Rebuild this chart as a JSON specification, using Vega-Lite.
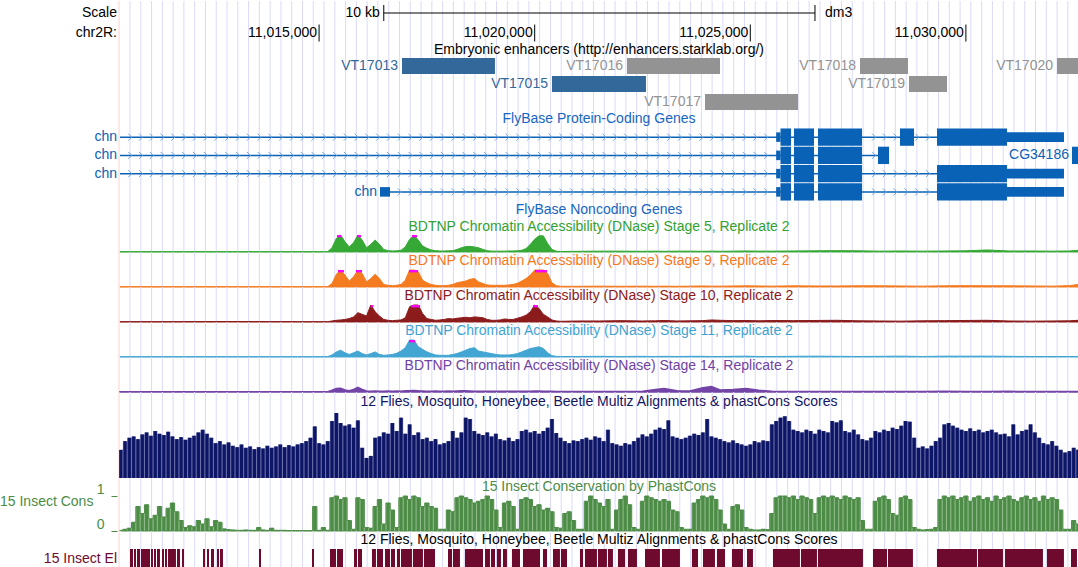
{
"$schema":"https://vega.github.io/schema/vega-lite/v6.json",
"padding":0,"spacing":0,"bounds":"flush","background":"white",
"config":{"view":{"stroke":null},"text":{"font":"Liberation Sans","fontSize":14},"axis":{"labelFont":"Liberation Sans"}},
"datasets":{
"one":[{"a":1}],
"edge":[{"p":11010360}],
"sbar":[{"p":11016500},{"p":11026500}],
"coords":[{"p":11015000,"label":"11,015,000"},{"p":11020000,"label":"11,020,000"},{"p":11025000,"label":"11,025,000"},{"p":11030000,"label":"11,030,000"}],
"guides":[{"p":11010615},{"p":11010865},{"p":11011115},{"p":11011365},{"p":11011615},{"p":11011865},{"p":11012115},{"p":11012365},{"p":11012615},{"p":11012865},{"p":11013115},{"p":11013365},{"p":11013615},{"p":11013865},{"p":11014115},{"p":11014365},{"p":11014615},{"p":11014865},{"p":11015115},{"p":11015365},{"p":11015615},{"p":11015865},{"p":11016115},{"p":11016365},{"p":11016615},{"p":11016865},{"p":11017115},{"p":11017365},{"p":11017615},{"p":11017865},{"p":11018115},{"p":11018365},{"p":11018615},{"p":11018865},{"p":11019115},{"p":11019365},{"p":11019615},{"p":11019865},{"p":11020115},{"p":11020365},{"p":11020615},{"p":11020865},{"p":11021115},{"p":11021365},{"p":11021615},{"p":11021865},{"p":11022115},{"p":11022365},{"p":11022615},{"p":11022865},{"p":11023115},{"p":11023365},{"p":11023615},{"p":11023865},{"p":11024115},{"p":11024365},{"p":11024615},{"p":11024865},{"p":11025115},{"p":11025365},{"p":11025615},{"p":11025865},{"p":11026115},{"p":11026365},{"p":11026615},{"p":11026865},{"p":11027115},{"p":11027365},{"p":11027615},{"p":11027865},{"p":11028115},{"p":11028365},{"p":11028615},{"p":11028865},{"p":11029115},{"p":11029365},{"p":11029615},{"p":11029865},{"p":11030115},{"p":11030365},{"p":11030615},{"p":11030865},{"p":11031115},{"p":11031365},{"p":11031615},{"p":11031865},{"p":11032115},{"p":11032365}],
"enh":[{"lane":1,"s":11016923,"e":11019079,"name":"VT17013","kind":"strong"},{"lane":1,"s":11022141,"e":11024298,"name":"VT17016","kind":"weak"},{"lane":1,"s":11027544,"e":11028657,"name":"VT17018","kind":"weak"},{"lane":1,"s":11032113,"e":11032600,"name":"VT17020","kind":"weak"},{"lane":2,"s":11020401,"e":11022581,"name":"VT17015","kind":"strong"},{"lane":2,"s":11028681,"e":11029562,"name":"VT17019","kind":"weak"},{"lane":3,"s":11023950,"e":11026106,"name":"VT17017","kind":"weak"}],
"introns":[{"lane":1,"s":11010383,"e":11032275},{"lane":2,"s":11010383,"e":11028217},{"lane":3,"s":11010383,"e":11032275},{"lane":4,"s":11016644,"e":11032275}],
"exons":[{"lane":1,"s":11025700,"e":11025944},{"lane":1,"s":11026014,"e":11026477},{"lane":1,"s":11026570,"e":11027591},{"lane":1,"s":11028472,"e":11028797},{"lane":1,"s":11029330,"e":11030953},
{"lane":2,"s":11025700,"e":11025944},{"lane":2,"s":11026014,"e":11026477},{"lane":2,"s":11026570,"e":11027591},{"lane":2,"s":11027962,"e":11028217},{"lane":2,"s":11032460,"e":11032600},
{"lane":3,"s":11025700,"e":11025944},{"lane":3,"s":11026014,"e":11026477},{"lane":3,"s":11026570,"e":11027591},{"lane":3,"s":11029330,"e":11030953},
{"lane":4,"s":11025700,"e":11025944},{"lane":4,"s":11026014,"e":11026477},{"lane":4,"s":11026570,"e":11027591},{"lane":4,"s":11029330,"e":11030953}],
"utrs":[{"lane":1,"s":11025600,"e":11025700},{"lane":1,"s":11030953,"e":11032275},{"lane":2,"s":11025600,"e":11025700},{"lane":3,"s":11025600,"e":11025700},{"lane":3,"s":11030953,"e":11032275},{"lane":4,"s":11016413,"e":11016644},{"lane":4,"s":11025600,"e":11025700},{"lane":4,"s":11030953,"e":11032275}],
"glab":[{"lane":1,"p":11010383,"label":"chn"},{"lane":2,"p":11010383,"label":"chn"},{"lane":3,"p":11010383,"label":"chn"},{"lane":4,"p":11016413,"label":"chn"},{"lane":2,"p":11032460,"label":"CG34186"}],
"sig":[
{"p":11010383,"s5":0.02,"s9":0.02,"s10":0.02,"s11":0.02,"s14":0.02},
{"p":11011500,"s5":0.02,"s9":0.02,"s10":0.02,"s11":0.02,"s14":0.02},
{"p":11013000,"s5":0.02,"s9":0.02,"s10":0.03,"s11":0.02,"s14":0.02},
{"p":11014500,"s5":0.02,"s9":0.02,"s10":0.02,"s11":0.02,"s14":0.02},
{"p":11015200,"s5":0.02,"s9":0.02,"s10":0.02,"s11":0.02,"s14":0.02},
{"p":11015300,"s5":0.25,"s9":0.2,"s10":0.06,"s11":0.12,"s14":0.1},
{"p":11015400,"s5":0.8,"s9":0.75,"s10":0.1,"s11":0.3,"s14":0.2},
{"p":11015500,"s5":1.2,"s9":1.2,"s10":0.12,"s11":0.4,"s14":0.22},
{"p":11015600,"s5":0.6,"s9":0.7,"s10":0.15,"s11":0.25,"s14":0.12},
{"p":11015700,"s5":0.3,"s9":0.35,"s10":0.2,"s11":0.15,"s14":0.08},
{"p":11015800,"s5":0.55,"s9":0.6,"s10":0.3,"s11":0.25,"s14":0.15},
{"p":11015900,"s5":1.2,"s9":1.2,"s10":0.55,"s11":0.35,"s14":0.27},
{"p":11016000,"s5":0.7,"s9":0.8,"s10":0.45,"s11":0.2,"s14":0.15},
{"p":11016100,"s5":0.25,"s9":0.3,"s10":0.35,"s11":0.12,"s14":0.06},
{"p":11016200,"s5":0.45,"s9":0.5,"s10":1.1,"s11":0.2,"s14":0.05},
{"p":11016300,"s5":0.7,"s9":0.75,"s10":0.6,"s11":0.3,"s14":0.06},
{"p":11016400,"s5":0.45,"s9":0.5,"s10":0.35,"s11":0.15,"s14":0.05},
{"p":11016500,"s5":0.15,"s9":0.15,"s10":0.15,"s11":0.1,"s14":0.05},
{"p":11016600,"s5":0.08,"s9":0.1,"s10":0.1,"s11":0.12,"s14":0.06},
{"p":11016700,"s5":0.06,"s9":0.08,"s10":0.08,"s11":0.15,"s14":0.05},
{"p":11016800,"s5":0.07,"s9":0.1,"s10":0.1,"s11":0.22,"s14":0.06},
{"p":11016900,"s5":0.1,"s9":0.15,"s10":0.12,"s11":0.35,"s14":0.05},
{"p":11017000,"s5":0.3,"s9":0.4,"s10":0.25,"s11":0.55,"s14":0.07},
{"p":11017100,"s5":0.75,"s9":1.1,"s10":0.9,"s11":1.0,"s14":0.08},
{"p":11017200,"s5":1.2,"s9":1.2,"s10":1.2,"s11":1.2,"s14":0.09},
{"p":11017300,"s5":0.7,"s9":0.9,"s10":1.1,"s11":0.6,"s14":0.07},
{"p":11017400,"s5":0.35,"s9":0.4,"s10":0.5,"s11":0.45,"s14":0.06},
{"p":11017500,"s5":0.22,"s9":0.25,"s10":0.2,"s11":0.3,"s14":0.05},
{"p":11017600,"s5":0.12,"s9":0.15,"s10":0.15,"s11":0.2,"s14":0.05},
{"p":11017700,"s5":0.08,"s9":0.1,"s10":0.1,"s11":0.12,"s14":0.06},
{"p":11017800,"s5":0.06,"s9":0.08,"s10":0.12,"s11":0.1,"s14":0.05},
{"p":11017900,"s5":0.06,"s9":0.08,"s10":0.15,"s11":0.1,"s14":0.05},
{"p":11018000,"s5":0.07,"s9":0.1,"s10":0.2,"s11":0.1,"s14":0.06},
{"p":11018100,"s5":0.08,"s9":0.15,"s10":0.18,"s11":0.15,"s14":0.05},
{"p":11018200,"s5":0.15,"s9":0.25,"s10":0.22,"s11":0.2,"s14":0.06},
{"p":11018300,"s5":0.25,"s9":0.3,"s10":0.25,"s11":0.3,"s14":0.07},
{"p":11018400,"s5":0.32,"s9":0.35,"s10":0.28,"s11":0.4,"s14":0.07},
{"p":11018500,"s5":0.33,"s9":0.45,"s10":0.25,"s11":0.5,"s14":0.06},
{"p":11018600,"s5":0.3,"s9":0.5,"s10":0.3,"s11":0.55,"s14":0.05},
{"p":11018700,"s5":0.25,"s9":0.3,"s10":0.28,"s11":0.35,"s14":0.05},
{"p":11018800,"s5":0.15,"s9":0.2,"s10":0.25,"s11":0.3,"s14":0.05},
{"p":11018900,"s5":0.08,"s9":0.12,"s10":0.15,"s11":0.25,"s14":0.04},
{"p":11019000,"s5":0.05,"s9":0.1,"s10":0.1,"s11":0.2,"s14":0.04},
{"p":11019100,"s5":0.05,"s9":0.1,"s10":0.1,"s11":0.15,"s14":0.04},
{"p":11019200,"s5":0.05,"s9":0.1,"s10":0.12,"s11":0.12,"s14":0.05},
{"p":11019300,"s5":0.05,"s9":0.1,"s10":0.18,"s11":0.12,"s14":0.05},
{"p":11019400,"s5":0.06,"s9":0.12,"s10":0.15,"s11":0.12,"s14":0.04},
{"p":11019500,"s5":0.06,"s9":0.15,"s10":0.15,"s11":0.15,"s14":0.04},
{"p":11019600,"s5":0.07,"s9":0.22,"s10":0.22,"s11":0.2,"s14":0.05},
{"p":11019700,"s5":0.1,"s9":0.35,"s10":0.3,"s11":0.3,"s14":0.05},
{"p":11019800,"s5":0.2,"s9":0.5,"s10":0.4,"s11":0.4,"s14":0.05},
{"p":11019900,"s5":0.45,"s9":0.7,"s10":0.6,"s11":0.5,"s14":0.05},
{"p":11020000,"s5":0.75,"s9":1.0,"s10":1.1,"s11":0.55,"s14":0.06},
{"p":11020100,"s5":0.95,"s9":1.2,"s10":0.8,"s11":0.6,"s14":0.06},
{"p":11020200,"s5":0.95,"s9":1.2,"s10":0.45,"s11":0.5,"s14":0.05},
{"p":11020300,"s5":0.5,"s9":0.8,"s10":0.3,"s11":0.25,"s14":0.04},
{"p":11020400,"s5":0.15,"s9":0.25,"s10":0.12,"s11":0.08,"s14":0.04},
{"p":11020500,"s5":0.05,"s9":0.08,"s10":0.06,"s11":0.04,"s14":0.03},
{"p":11020600,"s5":0.03,"s9":0.04,"s10":0.04,"s11":0.03,"s14":0.03},
{"p":11021000,"s5":0.04,"s9":0.04,"s10":0.06,"s11":0.03,"s14":0.03},
{"p":11021500,"s5":0.05,"s9":0.05,"s10":0.06,"s11":0.04,"s14":0.03},
{"p":11022000,"s5":0.05,"s9":0.04,"s10":0.08,"s11":0.03,"s14":0.03},
{"p":11022500,"s5":0.04,"s9":0.05,"s10":0.06,"s11":0.04,"s14":0.05},
{"p":11022800,"s5":0.05,"s9":0.04,"s10":0.07,"s11":0.03,"s14":0.15},
{"p":11023000,"s5":0.04,"s9":0.05,"s10":0.09,"s11":0.04,"s14":0.2},
{"p":11023300,"s5":0.05,"s9":0.04,"s10":0.06,"s11":0.03,"s14":0.08},
{"p":11023600,"s5":0.05,"s9":0.05,"s10":0.07,"s11":0.04,"s14":0.06},
{"p":11023900,"s5":0.04,"s9":0.06,"s10":0.08,"s11":0.04,"s14":0.25},
{"p":11024100,"s5":0.05,"s9":0.05,"s10":0.12,"s11":0.03,"s14":0.32},
{"p":11024300,"s5":0.04,"s9":0.05,"s10":0.1,"s11":0.03,"s14":0.12},
{"p":11024600,"s5":0.05,"s9":0.06,"s10":0.08,"s11":0.04,"s14":0.15},
{"p":11024900,"s5":0.06,"s9":0.07,"s10":0.09,"s11":0.05,"s14":0.2},
{"p":11025200,"s5":0.05,"s9":0.06,"s10":0.07,"s11":0.03,"s14":0.1},
{"p":11025500,"s5":0.05,"s9":0.05,"s10":0.09,"s11":0.03,"s14":0.04},
{"p":11026000,"s5":0.06,"s9":0.07,"s10":0.08,"s11":0.04,"s14":0.03},
{"p":11026500,"s5":0.07,"s9":0.06,"s10":0.09,"s11":0.05,"s14":0.03},
{"p":11027000,"s5":0.08,"s9":0.06,"s10":0.1,"s11":0.04,"s14":0.03},
{"p":11027500,"s5":0.07,"s9":0.07,"s10":0.07,"s11":0.03,"s14":0.03},
{"p":11028000,"s5":0.05,"s9":0.07,"s10":0.06,"s11":0.04,"s14":0.03},
{"p":11028500,"s5":0.06,"s9":0.06,"s10":0.05,"s11":0.05,"s14":0.03},
{"p":11029000,"s5":0.05,"s9":0.05,"s10":0.07,"s11":0.03,"s14":0.03},
{"p":11029500,"s5":0.06,"s9":0.07,"s10":0.08,"s11":0.05,"s14":0.04},
{"p":11030000,"s5":0.07,"s9":0.08,"s10":0.09,"s11":0.05,"s14":0.03},
{"p":11030500,"s5":0.12,"s9":0.07,"s10":0.1,"s11":0.05,"s14":0.03},
{"p":11031000,"s5":0.06,"s9":0.07,"s10":0.06,"s11":0.04,"s14":0.04},
{"p":11031500,"s5":0.06,"s9":0.06,"s10":0.05,"s11":0.03,"s14":0.03},
{"p":11032000,"s5":0.05,"s9":0.05,"s10":0.06,"s11":0.03,"s14":0.03},
{"p":11032400,"s5":0.06,"s9":0.08,"s10":0.07,"s11":0.03,"s14":0.03},
{"p":11032600,"s5":0.1,"s9":0.15,"s10":0.1,"s11":0.03,"s14":0.03}],
"caps":[{"t":"s5","s":11015415,"e":11015508},{"t":"s5","s":11015879,"e":11015972},{"t":"s5","s":11017154,"e":11017270},
{"t":"s9","s":11015438,"e":11015577},{"t":"s9","s":11015856,"e":11015995},{"t":"s9","s":11017085,"e":11017293},{"t":"s9","s":11020007,"e":11020285},
{"t":"s10","s":11016200,"e":11016260},{"t":"s10","s":11017131,"e":11017340},{"t":"s10","s":11019960,"e":11020076},
{"t":"s11","s":11017085,"e":11017224}],
"mc":[
{"p":11010400,"m":0.42,"c":0.02},{"p":11010500,"m":0.55,"c":0.05},{"p":11010600,"m":0.6,"c":0.08},{"p":11010700,"m":0.62,"c":0.25},{"p":11010800,"m":0.58,"c":0.7},{"p":11010900,"m":0.65,"c":0.5},{"p":11011000,"m":0.68,"c":0.75},{"p":11011100,"m":0.63,"c":0.35},{"p":11011200,"m":0.7,"c":0.45},{"p":11011300,"m":0.66,"c":0.7},
{"p":11011400,"m":0.64,"c":0.4},{"p":11011500,"m":0.69,"c":0.65},{"p":11011600,"m":0.62,"c":0.8},{"p":11011700,"m":0.58,"c":0.55},{"p":11011800,"m":0.61,"c":0.3},{"p":11011900,"m":0.57,"c":0.1},{"p":11012000,"m":0.6,"c":0.15},{"p":11012100,"m":0.63,"c":0.12},{"p":11012200,"m":0.68,"c":0.3},{"p":11012300,"m":0.72,"c":0.2},
{"p":11012400,"m":0.66,"c":0.35},{"p":11012500,"m":0.6,"c":0.12},{"p":11012600,"m":0.52,"c":0.3},{"p":11012700,"m":0.55,"c":0.25},{"p":11012800,"m":0.5,"c":0.06},{"p":11012900,"m":0.53,"c":0.04},{"p":11013000,"m":0.48,"c":0.03},{"p":11013100,"m":0.46,"c":0.02},{"p":11013200,"m":0.5,"c":0.02},{"p":11013300,"m":0.45,"c":0.03},
{"p":11013400,"m":0.47,"c":0.02},{"p":11013500,"m":0.43,"c":0.02},{"p":11013600,"m":0.46,"c":0.1},{"p":11013700,"m":0.44,"c":0.03},{"p":11013800,"m":0.48,"c":0.02},{"p":11013900,"m":0.45,"c":0.08},{"p":11014000,"m":0.47,"c":0.02},{"p":11014100,"m":0.5,"c":0.02},{"p":11014200,"m":0.46,"c":0.02},{"p":11014300,"m":0.49,"c":0.01},
{"p":11014400,"m":0.47,"c":0.01},{"p":11014500,"m":0.5,"c":0.01},{"p":11014600,"m":0.52,"c":0.01},{"p":11014700,"m":0.55,"c":0.01},{"p":11014800,"m":0.6,"c":0.01},{"p":11014900,"m":0.77,"c":0.7},{"p":11015000,"m":0.52,"c":0.02},{"p":11015100,"m":0.5,"c":0.1},{"p":11015200,"m":0.55,"c":0.02},{"p":11015300,"m":0.85,"c":0.95},
{"p":11015400,"m":0.97,"c":1},{"p":11015500,"m":0.82,"c":0.9},{"p":11015600,"m":0.78,"c":0.95},{"p":11015700,"m":0.8,"c":0.3},{"p":11015800,"m":0.75,"c":0.05},{"p":11015900,"m":0.86,"c":0.95},{"p":11016000,"m":0.45,"c":0.9},{"p":11016100,"m":0.3,"c":0.1},{"p":11016200,"m":0.33,"c":0.08},{"p":11016300,"m":0.6,"c":0.7},
{"p":11016400,"m":0.62,"c":0.9},{"p":11016500,"m":0.68,"c":0.2},{"p":11016600,"m":0.66,"c":0.8},{"p":11016700,"m":0.82,"c":0.6},{"p":11016800,"m":0.7,"c":0.1},{"p":11016900,"m":0.9,"c":0.95},{"p":11017000,"m":0.66,"c":1},{"p":11017100,"m":0.8,"c":0.9},{"p":11017200,"m":0.64,"c":1},{"p":11017300,"m":0.68,"c":0.95},
{"p":11017400,"m":0.58,"c":0.7},{"p":11017500,"m":0.6,"c":0.8},{"p":11017600,"m":0.55,"c":0.7},{"p":11017700,"m":0.58,"c":0.65},{"p":11017800,"m":0.5,"c":0.05},{"p":11017900,"m":0.52,"c":0.05},{"p":11018000,"m":0.55,"c":0.6},{"p":11018100,"m":0.7,"c":0.55},{"p":11018200,"m":0.6,"c":0.95},{"p":11018300,"m":0.68,"c":1},
{"p":11018400,"m":0.9,"c":0.95},{"p":11018500,"m":0.88,"c":0.9},{"p":11018600,"m":0.7,"c":0.8},{"p":11018700,"m":0.66,"c":0.85},{"p":11018800,"m":0.64,"c":0.9},{"p":11018900,"m":0.68,"c":1},{"p":11019000,"m":0.62,"c":0.9},{"p":11019100,"m":0.66,"c":0.6},{"p":11019200,"m":0.58,"c":0.1},{"p":11019300,"m":0.56,"c":0.8},
{"p":11019400,"m":0.6,"c":0.85},{"p":11019500,"m":0.55,"c":0.7},{"p":11019600,"m":0.58,"c":0.05},{"p":11019700,"m":0.7,"c":0.9},{"p":11019800,"m":0.72,"c":0.95},{"p":11019900,"m":0.68,"c":0.9},{"p":11020000,"m":0.7,"c":0.7},{"p":11020100,"m":0.66,"c":0.75},{"p":11020200,"m":0.7,"c":0.6},{"p":11020300,"m":0.75,"c":0.65},
{"p":11020400,"m":0.88,"c":0.55},{"p":11020500,"m":0.67,"c":0.1},{"p":11020600,"m":0.6,"c":0.08},{"p":11020700,"m":0.55,"c":0.5},{"p":11020800,"m":0.52,"c":0.55},{"p":11020900,"m":0.56,"c":0.3},{"p":11021000,"m":0.55,"c":0.05},{"p":11021100,"m":0.58,"c":0.05},{"p":11021200,"m":0.6,"c":0.85},{"p":11021300,"m":0.57,"c":1},
{"p":11021400,"m":0.62,"c":0.9},{"p":11021500,"m":0.6,"c":0.8},{"p":11021600,"m":0.55,"c":0.7},{"p":11021700,"m":0.72,"c":0.9},{"p":11021800,"m":0.52,"c":0.05},{"p":11021900,"m":0.5,"c":0.6},{"p":11022000,"m":0.48,"c":0.9},{"p":11022100,"m":0.52,"c":1},{"p":11022200,"m":0.5,"c":0.75},{"p":11022300,"m":0.55,"c":0.1},
{"p":11022400,"m":0.6,"c":0.05},{"p":11022500,"m":0.65,"c":0.85},{"p":11022600,"m":0.62,"c":1},{"p":11022700,"m":0.66,"c":0.95},{"p":11022800,"m":0.72,"c":0.9},{"p":11022900,"m":0.75,"c":0.85},{"p":11023000,"m":0.73,"c":0.9},{"p":11023100,"m":0.86,"c":0.85},{"p":11023200,"m":0.62,"c":0.6},{"p":11023300,"m":0.6,"c":0.55},
{"p":11023400,"m":0.58,"c":0.1},{"p":11023500,"m":0.6,"c":0.05},{"p":11023600,"m":0.63,"c":0.05},{"p":11023700,"m":0.66,"c":0.8},{"p":11023800,"m":0.64,"c":0.9},{"p":11023900,"m":0.68,"c":1},{"p":11024000,"m":0.88,"c":0.95},{"p":11024100,"m":0.62,"c":1},{"p":11024200,"m":0.6,"c":0.9},{"p":11024300,"m":0.58,"c":0.6},
{"p":11024400,"m":0.55,"c":0.2},{"p":11024500,"m":0.53,"c":0.05},{"p":11024600,"m":0.56,"c":0.7},{"p":11024700,"m":0.52,"c":0.75},{"p":11024800,"m":0.5,"c":0.6},{"p":11024900,"m":0.48,"c":0.1},{"p":11025000,"m":0.5,"c":0.05},{"p":11025100,"m":0.55,"c":0.03},{"p":11025200,"m":0.53,"c":0.03},{"p":11025300,"m":0.56,"c":0.05},
{"p":11025400,"m":0.55,"c":0.04},{"p":11025500,"m":0.8,"c":0.5},{"p":11025600,"m":0.85,"c":0.95},{"p":11025700,"m":0.9,"c":1},{"p":11025800,"m":0.92,"c":1},{"p":11025900,"m":0.85,"c":0.95},{"p":11026000,"m":0.72,"c":1},{"p":11026100,"m":0.7,"c":0.9},{"p":11026200,"m":0.68,"c":1},{"p":11026300,"m":0.72,"c":0.95},
{"p":11026400,"m":0.7,"c":0.9},{"p":11026500,"m":0.66,"c":0.5},{"p":11026600,"m":0.72,"c":0.95},{"p":11026700,"m":0.7,"c":1},{"p":11026800,"m":0.68,"c":0.95},{"p":11026900,"m":0.85,"c":1},{"p":11027000,"m":0.83,"c":0.95},{"p":11027100,"m":0.86,"c":0.9},{"p":11027200,"m":0.7,"c":1},{"p":11027300,"m":0.68,"c":0.95},
{"p":11027400,"m":0.72,"c":0.9},{"p":11027500,"m":0.65,"c":0.95},{"p":11027600,"m":0.58,"c":0.3},{"p":11027700,"m":0.56,"c":0.05},{"p":11027800,"m":0.6,"c":0.05},{"p":11027900,"m":0.7,"c":0.85},{"p":11028000,"m":0.68,"c":0.95},{"p":11028100,"m":0.72,"c":1},{"p":11028200,"m":0.7,"c":0.9},{"p":11028300,"m":0.75,"c":0.5},
{"p":11028400,"m":0.73,"c":0.45},{"p":11028500,"m":0.78,"c":0.95},{"p":11028600,"m":0.85,"c":1},{"p":11028700,"m":0.84,"c":0.9},{"p":11028800,"m":0.6,"c":0.1},{"p":11028900,"m":0.45,"c":0.05},{"p":11029000,"m":0.47,"c":0.03},{"p":11029100,"m":0.44,"c":0.04},{"p":11029200,"m":0.48,"c":0.05},{"p":11029300,"m":0.55,"c":0.1},
{"p":11029400,"m":0.6,"c":0.9},{"p":11029500,"m":0.8,"c":1},{"p":11029600,"m":0.82,"c":0.95},{"p":11029700,"m":0.78,"c":1},{"p":11029800,"m":0.75,"c":0.9},{"p":11029900,"m":0.72,"c":0.95},{"p":11030000,"m":0.7,"c":1},{"p":11030100,"m":0.74,"c":0.85},{"p":11030200,"m":0.7,"c":0.95},{"p":11030300,"m":0.72,"c":1},
{"p":11030400,"m":0.68,"c":0.9},{"p":11030500,"m":0.7,"c":0.95},{"p":11030600,"m":0.72,"c":0.85},{"p":11030700,"m":0.68,"c":1},{"p":11030800,"m":0.65,"c":0.9},{"p":11030900,"m":0.66,"c":0.95},{"p":11031000,"m":0.62,"c":1},{"p":11031100,"m":0.8,"c":0.9},{"p":11031200,"m":0.65,"c":0.85},{"p":11031300,"m":0.7,"c":0.95},
{"p":11031400,"m":0.72,"c":1},{"p":11031500,"m":0.8,"c":0.9},{"p":11031600,"m":0.68,"c":0.95},{"p":11031700,"m":0.6,"c":0.85},{"p":11031800,"m":0.52,"c":1},{"p":11031900,"m":0.5,"c":0.9},{"p":11032000,"m":0.55,"c":0.95},{"p":11032100,"m":0.48,"c":0.9},{"p":11032200,"m":0.42,"c":0.6},{"p":11032300,"m":0.38,"c":0.05},
{"p":11032400,"m":0.4,"c":0.05},{"p":11032500,"m":0.45,"c":0.3},{"p":11032600,"m":0.42,"c":0.2}],
"el":[{"s":11010615,"e":11010684},{"s":11010707,"e":11010754},{"s":11010777,"e":11010847},{"s":11010870,"e":11011079},{"s":11011102,"e":11011148},{"s":11011171,"e":11011218},{"s":11011241,"e":11011310},{"s":11011357,"e":11011403},{"s":11011426,"e":11011473},{"s":11011496,"e":11011681},{"s":11011705,"e":11011774},{"s":11011821,"e":11011867},{"s":11012308,"e":11012354},{"s":11012400,"e":11012447},{"s":11012493,"e":11012563},{"s":11012632,"e":11012679},{"s":11012702,"e":11012771},{"s":11013606,"e":11013653},{"s":11014835,"e":11014882},{"s":11015253,"e":11015392},{"s":11015415,"e":11015554},{"s":11015809,"e":11015879},{"s":11015902,"e":11015995},{"s":11016227,"e":11016319},{"s":11016343,"e":11016482},{"s":11016528,"e":11016644},{"s":11016667,"e":11016760},{"s":11016806,"e":11016876},{"s":11016899,"e":11017154},{"s":11017177,"e":11017409},{"s":11017433,"e":11017688},{"s":11017989,"e":11018082},{"s":11018105,"e":11018267},{"s":11018383,"e":11018801},{"s":11018847,"e":11018963},{"s":11018986,"e":11019079},{"s":11019125,"e":11019218},{"s":11019265,"e":11019357},{"s":11019473,"e":11019659},{"s":11019728,"e":11020123},{"s":11020192,"e":11020285},{"s":11020424,"e":11020586},{"s":11020610,"e":11020749},{"s":11021050,"e":11021120},{"s":11021166,"e":11021444},{"s":11021468,"e":11021676},{"s":11021700,"e":11021815},{"s":11021931,"e":11022094},{"s":11022163,"e":11022372},{"s":11022558,"e":11022905},{"s":11022952,"e":11023369},{"s":11023647,"e":11023787},{"s":11023903,"e":11024181},{"s":11024227,"e":11024413},{"s":11024575,"e":11024830},{"s":11024923,"e":11025062},{"s":11025526,"e":11026152},{"s":11026175,"e":11026546},{"s":11026569,"e":11027613},{"s":11027845,"e":11028170},{"s":11028193,"e":11028772},{"s":11029329,"e":11030257},{"s":11030280,"e":11030860},{"s":11030906,"e":11031787},{"s":11031880,"e":11032274},{"s":11032437,"e":11032576}]
},
"vconcat":[
{"width":958,"height":24,"layer":[
{"data":{"name":"guides"},"mark":{"type":"rule","color":"#dadafa","strokeWidth":1},"encoding":{"x":{"field":"p","type":"quantitative","scale":{"domain":[11010383,11032600],"nice":false,"zero":false},"axis":null}}},
{"data":{"name":"edge"},"mark":{"type":"rule","color":"#ffd0d0","strokeWidth":1},"encoding":{"x":{"field":"p","type":"quantitative","scale":{"domain":[11010383,11032600],"nice":false,"zero":false},"axis":null}}},
{"data":{"name":"one"},"mark":{"type":"rule","color":"#000000","strokeWidth":1},"encoding":{"x":{"datum":11016500,"type":"quantitative","scale":{"domain":[11010383,11032600],"nice":false,"zero":false},"axis":null},"x2":{"datum":11026500}}},
{"data":{"name":"sbar"},"mark":{"type":"tick","color":"#000000","size":16,"thickness":1,"opacity":1,"orient":"vertical"},"encoding":{"x":{"field":"p","type":"quantitative","scale":{"domain":[11010383,11032600],"nice":false,"zero":false},"axis":null}}},
{"data":{"name":"one"},"mark":{"type":"text","text":"10 kb","align":"right","dx":-4,"color":"#000000"},"encoding":{"x":{"datum":11016500,"type":"quantitative","scale":{"domain":[11010383,11032600],"nice":false,"zero":false},"axis":null}}},
{"data":{"name":"one"},"mark":{"type":"text","text":"dm3","align":"left","dx":10,"color":"#000000"},"encoding":{"x":{"datum":11026500,"type":"quantitative","scale":{"domain":[11010383,11032600],"nice":false,"zero":false},"axis":null}}},
{"data":{"name":"one"},"mark":{"type":"text","text":"Scale","align":"right","dx":-3,"color":"#000000"},"encoding":{"x":{"datum":11010383,"type":"quantitative","scale":{"domain":[11010383,11032600],"nice":false,"zero":false},"axis":null}}}
]},
{"width":958,"height":16,"layer":[
{"data":{"name":"guides"},"mark":{"type":"rule","color":"#dadafa","strokeWidth":1},"encoding":{"x":{"field":"p","type":"quantitative","scale":{"domain":[11010383,11032600],"nice":false,"zero":false},"axis":null}}},
{"data":{"name":"edge"},"mark":{"type":"rule","color":"#ffd0d0","strokeWidth":1},"encoding":{"x":{"field":"p","type":"quantitative","scale":{"domain":[11010383,11032600],"nice":false,"zero":false},"axis":null}}},
{"data":{"name":"coords"},"mark":{"type":"tick","color":"#000000","size":17,"thickness":1,"opacity":1,"orient":"vertical"},"encoding":{"x":{"field":"p","type":"quantitative","scale":{"domain":[11010383,11032600],"nice":false,"zero":false},"axis":null}}},
{"data":{"name":"coords"},"mark":{"type":"text","align":"right","dx":-2,"color":"#000000"},"encoding":{"x":{"field":"p","type":"quantitative","scale":{"domain":[11010383,11032600],"nice":false,"zero":false},"axis":null},"text":{"field":"label"}}},
{"data":{"name":"one"},"mark":{"type":"text","text":"chr2R:","align":"right","dx":-3,"color":"#000000"},"encoding":{"x":{"datum":11010383,"type":"quantitative","scale":{"domain":[11010383,11032600],"nice":false,"zero":false},"axis":null}}}
]},
{"width":958,"height":17,"layer":[
{"data":{"name":"guides"},"mark":{"type":"rule","color":"#dadafa","strokeWidth":1},"encoding":{"x":{"field":"p","type":"quantitative","scale":{"domain":[11010383,11032600],"nice":false,"zero":false},"axis":null}}},
{"data":{"name":"edge"},"mark":{"type":"rule","color":"#ffd0d0","strokeWidth":1},"encoding":{"x":{"field":"p","type":"quantitative","scale":{"domain":[11010383,11032600],"nice":false,"zero":false},"axis":null}}},
{"data":{"name":"one"},"mark":{"type":"text","text":"Embryonic enhancers (http://enhancers.starklab.org/)","color":"#000000"}}
]},
{"width":958,"height":52,"layer":[
{"data":{"name":"guides"},"mark":{"type":"rule","color":"#dadafa","strokeWidth":1},"encoding":{"x":{"field":"p","type":"quantitative","scale":{"domain":[11010383,11032600],"nice":false,"zero":false},"axis":null}}},
{"data":{"name":"edge"},"mark":{"type":"rule","color":"#ffd0d0","strokeWidth":1},"encoding":{"x":{"field":"p","type":"quantitative","scale":{"domain":[11010383,11032600],"nice":false,"zero":false},"axis":null}}},
{"data":{"name":"enh"},"mark":{"type":"bar"},"encoding":{"x":{"field":"s","type":"quantitative","scale":{"domain":[11010383,11032600],"nice":false,"zero":false},"axis":null},"x2":{"field":"e"},"y":{"field":"lane","type":"ordinal","scale":{"domain":[1,2,3],"paddingInner":0.111,"paddingOuter":0},"axis":null},"color":{"field":"kind","type":"nominal","scale":{"domain":["strong","weak"],"range":["#33689a","#939393"]},"legend":null}}},
{"data":{"name":"enh"},"mark":{"type":"text","align":"right","dx":-4},"encoding":{"x":{"field":"s","type":"quantitative","scale":{"domain":[11010383,11032600],"nice":false,"zero":false},"axis":null},"y":{"field":"lane","type":"ordinal","scale":{"domain":[1,2,3],"paddingInner":0.111,"paddingOuter":0},"axis":null},"text":{"field":"name"},"color":{"field":"kind","type":"nominal","scale":{"domain":["strong","weak"],"range":["#33689a","#939393"]},"legend":null}}}
]},
{"width":958,"height":18,"layer":[
{"data":{"name":"guides"},"mark":{"type":"rule","color":"#dadafa","strokeWidth":1},"encoding":{"x":{"field":"p","type":"quantitative","scale":{"domain":[11010383,11032600],"nice":false,"zero":false},"axis":null}}},
{"data":{"name":"edge"},"mark":{"type":"rule","color":"#ffd0d0","strokeWidth":1},"encoding":{"x":{"field":"p","type":"quantitative","scale":{"domain":[11010383,11032600],"nice":false,"zero":false},"axis":null}}},
{"data":{"name":"one"},"mark":{"type":"text","text":"FlyBase Protein-Coding Genes","color":"#1666c2"}}
]},
{"width":958,"height":73,"layer":[
{"data":{"name":"guides"},"mark":{"type":"rule","color":"#dadafa","strokeWidth":1},"encoding":{"x":{"field":"p","type":"quantitative","scale":{"domain":[11010383,11032600],"nice":false,"zero":false},"axis":null}}},
{"data":{"name":"edge"},"mark":{"type":"rule","color":"#ffd0d0","strokeWidth":1},"encoding":{"x":{"field":"p","type":"quantitative","scale":{"domain":[11010383,11032600],"nice":false,"zero":false},"axis":null}}},
{"data":{"name":"introns"},"mark":{"type":"rule","color":"#0a62b6","strokeWidth":1.5},"encoding":{"x":{"field":"s","type":"quantitative","scale":{"domain":[11010383,11032600],"nice":false,"zero":false},"axis":null},"x2":{"field":"e"},"y":{"field":"lane","type":"ordinal","scale":{"domain":[1,2,3,4],"paddingInner":0.05,"paddingOuter":0.025},"axis":null}}},
{"data":{"name":"guides"},"transform":[{"filter":"datum.p < 11025600 || (datum.p > 11027620 && datum.p < 11028450) || (datum.p > 11028820 && datum.p < 11029310)"}],"mark":{"type":"point","shape":"M-0.5,-1L0.5,0L-0.5,1","filled":false,"size":49,"color":"#6ea6de","strokeWidth":1,"opacity":1},"encoding":{"x":{"field":"p","type":"quantitative","scale":{"domain":[11010383,11032600],"nice":false,"zero":false},"axis":null},"y":{"datum":1,"type":"ordinal","scale":{"domain":[1,2,3,4],"paddingInner":0.05,"paddingOuter":0.025},"axis":null}}},
{"data":{"name":"guides"},"transform":[{"filter":"datum.p < 11025600 || (datum.p > 11027620 && datum.p < 11027940)"}],"mark":{"type":"point","shape":"M-0.5,-1L0.5,0L-0.5,1","filled":false,"size":49,"color":"#6ea6de","strokeWidth":1,"opacity":1},"encoding":{"x":{"field":"p","type":"quantitative","scale":{"domain":[11010383,11032600],"nice":false,"zero":false},"axis":null},"y":{"datum":2,"type":"ordinal","scale":{"domain":[1,2,3,4],"paddingInner":0.05,"paddingOuter":0.025},"axis":null}}},
{"data":{"name":"guides"},"transform":[{"filter":"datum.p < 11025600 || (datum.p > 11027620 && datum.p < 11029310)"}],"mark":{"type":"point","shape":"M-0.5,-1L0.5,0L-0.5,1","filled":false,"size":49,"color":"#6ea6de","strokeWidth":1,"opacity":1},"encoding":{"x":{"field":"p","type":"quantitative","scale":{"domain":[11010383,11032600],"nice":false,"zero":false},"axis":null},"y":{"datum":3,"type":"ordinal","scale":{"domain":[1,2,3,4],"paddingInner":0.05,"paddingOuter":0.025},"axis":null}}},
{"data":{"name":"guides"},"transform":[{"filter":"(datum.p > 11016700 && datum.p < 11025600) || (datum.p > 11027620 && datum.p < 11029310)"}],"mark":{"type":"point","shape":"M-0.5,-1L0.5,0L-0.5,1","filled":false,"size":49,"color":"#6ea6de","strokeWidth":1,"opacity":1},"encoding":{"x":{"field":"p","type":"quantitative","scale":{"domain":[11010383,11032600],"nice":false,"zero":false},"axis":null},"y":{"datum":4,"type":"ordinal","scale":{"domain":[1,2,3,4],"paddingInner":0.05,"paddingOuter":0.025},"axis":null}}},
{"data":{"name":"exons"},"mark":{"type":"bar","color":"#0a62b6"},"encoding":{"x":{"field":"s","type":"quantitative","scale":{"domain":[11010383,11032600],"nice":false,"zero":false},"axis":null},"x2":{"field":"e"},"y":{"field":"lane","type":"ordinal","scale":{"domain":[1,2,3,4],"paddingInner":0.05,"paddingOuter":0.025},"axis":null}}},
{"data":{"name":"utrs"},"mark":{"type":"bar","color":"#0a62b6","height":{"band":0.55}},"encoding":{"x":{"field":"s","type":"quantitative","scale":{"domain":[11010383,11032600],"nice":false,"zero":false},"axis":null},"x2":{"field":"e"},"y":{"field":"lane","type":"ordinal","scale":{"domain":[1,2,3,4],"paddingInner":0.05,"paddingOuter":0.025},"axis":null}}},
{"data":{"name":"glab"},"mark":{"type":"text","align":"right","dx":-3,"color":"#0a62b6"},"encoding":{"x":{"field":"p","type":"quantitative","scale":{"domain":[11010383,11032600],"nice":false,"zero":false},"axis":null},"y":{"field":"lane","type":"ordinal","scale":{"domain":[1,2,3,4],"paddingInner":0.05,"paddingOuter":0.025},"axis":null},"text":{"field":"label"}}}
]},
{"width":958,"height":17,"layer":[
{"data":{"name":"guides"},"mark":{"type":"rule","color":"#dadafa","strokeWidth":1},"encoding":{"x":{"field":"p","type":"quantitative","scale":{"domain":[11010383,11032600],"nice":false,"zero":false},"axis":null}}},
{"data":{"name":"edge"},"mark":{"type":"rule","color":"#ffd0d0","strokeWidth":1},"encoding":{"x":{"field":"p","type":"quantitative","scale":{"domain":[11010383,11032600],"nice":false,"zero":false},"axis":null}}},
{"data":{"name":"one"},"mark":{"type":"text","text":"FlyBase Noncoding Genes","color":"#1666c2"}}
]},
{"width":958,"height":17,"layer":[
{"data":{"name":"guides"},"mark":{"type":"rule","color":"#dadafa","strokeWidth":1},"encoding":{"x":{"field":"p","type":"quantitative","scale":{"domain":[11010383,11032600],"nice":false,"zero":false},"axis":null}}},
{"data":{"name":"edge"},"mark":{"type":"rule","color":"#ffd0d0","strokeWidth":1},"encoding":{"x":{"field":"p","type":"quantitative","scale":{"domain":[11010383,11032600],"nice":false,"zero":false},"axis":null}}},
{"data":{"name":"one"},"mark":{"type":"text","text":"BDTNP Chromatin Accessibility (DNase) Stage 5, Replicate 2","color":"#33a12f"}}
]},
{"width":958,"height":17,"layer":[
{"data":{"name":"guides"},"mark":{"type":"rule","color":"#dadafa","strokeWidth":1},"encoding":{"x":{"field":"p","type":"quantitative","scale":{"domain":[11010383,11032600],"nice":false,"zero":false},"axis":null}}},
{"data":{"name":"edge"},"mark":{"type":"rule","color":"#ffd0d0","strokeWidth":1},"encoding":{"x":{"field":"p","type":"quantitative","scale":{"domain":[11010383,11032600],"nice":false,"zero":false},"axis":null}}},
{"data":{"name":"sig"},"mark":{"type":"area","color":"#36a836","stroke":"#36a836","strokeWidth":1},"encoding":{"x":{"field":"p","type":"quantitative","scale":{"domain":[11010383,11032600],"nice":false,"zero":false},"axis":null},"y":{"field":"s5","type":"quantitative","scale":{"domain":[0,1],"clamp":true,"nice":false},"axis":null}}},
{"data":{"name":"caps"},"transform":[{"filter":"datum.t == 's5'"}],"mark":{"type":"rect","color":"#ff00ff"},"encoding":{"x":{"field":"s","type":"quantitative","scale":{"domain":[11010383,11032600],"nice":false,"zero":false},"axis":null},"x2":{"field":"e"},"y":{"datum":1,"type":"quantitative","scale":{"domain":[0,1],"clamp":true,"nice":false},"axis":null},"y2":{"datum":0.86}}}
]},
{"width":958,"height":18,"layer":[
{"data":{"name":"guides"},"mark":{"type":"rule","color":"#dadafa","strokeWidth":1},"encoding":{"x":{"field":"p","type":"quantitative","scale":{"domain":[11010383,11032600],"nice":false,"zero":false},"axis":null}}},
{"data":{"name":"edge"},"mark":{"type":"rule","color":"#ffd0d0","strokeWidth":1},"encoding":{"x":{"field":"p","type":"quantitative","scale":{"domain":[11010383,11032600],"nice":false,"zero":false},"axis":null}}},
{"data":{"name":"one"},"mark":{"type":"text","text":"BDTNP Chromatin Accessibility (DNase) Stage 9, Replicate 2","color":"#f47920"}}
]},
{"width":958,"height":17,"layer":[
{"data":{"name":"guides"},"mark":{"type":"rule","color":"#dadafa","strokeWidth":1},"encoding":{"x":{"field":"p","type":"quantitative","scale":{"domain":[11010383,11032600],"nice":false,"zero":false},"axis":null}}},
{"data":{"name":"edge"},"mark":{"type":"rule","color":"#ffd0d0","strokeWidth":1},"encoding":{"x":{"field":"p","type":"quantitative","scale":{"domain":[11010383,11032600],"nice":false,"zero":false},"axis":null}}},
{"data":{"name":"sig"},"mark":{"type":"area","color":"#f47b20","stroke":"#f47b20","strokeWidth":1},"encoding":{"x":{"field":"p","type":"quantitative","scale":{"domain":[11010383,11032600],"nice":false,"zero":false},"axis":null},"y":{"field":"s9","type":"quantitative","scale":{"domain":[0,1],"clamp":true,"nice":false},"axis":null}}},
{"data":{"name":"caps"},"transform":[{"filter":"datum.t == 's9'"}],"mark":{"type":"rect","color":"#ff00ff"},"encoding":{"x":{"field":"s","type":"quantitative","scale":{"domain":[11010383,11032600],"nice":false,"zero":false},"axis":null},"x2":{"field":"e"},"y":{"datum":1,"type":"quantitative","scale":{"domain":[0,1],"clamp":true,"nice":false},"axis":null},"y2":{"datum":0.86}}}
]},
{"width":958,"height":18,"layer":[
{"data":{"name":"guides"},"mark":{"type":"rule","color":"#dadafa","strokeWidth":1},"encoding":{"x":{"field":"p","type":"quantitative","scale":{"domain":[11010383,11032600],"nice":false,"zero":false},"axis":null}}},
{"data":{"name":"edge"},"mark":{"type":"rule","color":"#ffd0d0","strokeWidth":1},"encoding":{"x":{"field":"p","type":"quantitative","scale":{"domain":[11010383,11032600],"nice":false,"zero":false},"axis":null}}},
{"data":{"name":"one"},"mark":{"type":"text","text":"BDTNP Chromatin Accessibility (DNase) Stage 10, Replicate 2","color":"#8b1a1a"}}
]},
{"width":958,"height":17,"layer":[
{"data":{"name":"guides"},"mark":{"type":"rule","color":"#dadafa","strokeWidth":1},"encoding":{"x":{"field":"p","type":"quantitative","scale":{"domain":[11010383,11032600],"nice":false,"zero":false},"axis":null}}},
{"data":{"name":"edge"},"mark":{"type":"rule","color":"#ffd0d0","strokeWidth":1},"encoding":{"x":{"field":"p","type":"quantitative","scale":{"domain":[11010383,11032600],"nice":false,"zero":false},"axis":null}}},
{"data":{"name":"sig"},"mark":{"type":"area","color":"#8c1c1c","stroke":"#8c1c1c","strokeWidth":1},"encoding":{"x":{"field":"p","type":"quantitative","scale":{"domain":[11010383,11032600],"nice":false,"zero":false},"axis":null},"y":{"field":"s10","type":"quantitative","scale":{"domain":[0,1],"clamp":true,"nice":false},"axis":null}}},
{"data":{"name":"caps"},"transform":[{"filter":"datum.t == 's10'"}],"mark":{"type":"rect","color":"#ff00ff"},"encoding":{"x":{"field":"s","type":"quantitative","scale":{"domain":[11010383,11032600],"nice":false,"zero":false},"axis":null},"x2":{"field":"e"},"y":{"datum":1,"type":"quantitative","scale":{"domain":[0,1],"clamp":true,"nice":false},"axis":null},"y2":{"datum":0.86}}}
]},
{"width":958,"height":18,"layer":[
{"data":{"name":"guides"},"mark":{"type":"rule","color":"#dadafa","strokeWidth":1},"encoding":{"x":{"field":"p","type":"quantitative","scale":{"domain":[11010383,11032600],"nice":false,"zero":false},"axis":null}}},
{"data":{"name":"edge"},"mark":{"type":"rule","color":"#ffd0d0","strokeWidth":1},"encoding":{"x":{"field":"p","type":"quantitative","scale":{"domain":[11010383,11032600],"nice":false,"zero":false},"axis":null}}},
{"data":{"name":"one"},"mark":{"type":"text","text":"BDTNP Chromatin Accessibility (DNase) Stage 11, Replicate 2","color":"#3fa3d2"}}
]},
{"width":958,"height":17,"layer":[
{"data":{"name":"guides"},"mark":{"type":"rule","color":"#dadafa","strokeWidth":1},"encoding":{"x":{"field":"p","type":"quantitative","scale":{"domain":[11010383,11032600],"nice":false,"zero":false},"axis":null}}},
{"data":{"name":"edge"},"mark":{"type":"rule","color":"#ffd0d0","strokeWidth":1},"encoding":{"x":{"field":"p","type":"quantitative","scale":{"domain":[11010383,11032600],"nice":false,"zero":false},"axis":null}}},
{"data":{"name":"sig"},"mark":{"type":"area","color":"#42a5d2","stroke":"#42a5d2","strokeWidth":1},"encoding":{"x":{"field":"p","type":"quantitative","scale":{"domain":[11010383,11032600],"nice":false,"zero":false},"axis":null},"y":{"field":"s11","type":"quantitative","scale":{"domain":[0,1],"clamp":true,"nice":false},"axis":null}}},
{"data":{"name":"caps"},"transform":[{"filter":"datum.t == 's11'"}],"mark":{"type":"rect","color":"#ff00ff"},"encoding":{"x":{"field":"s","type":"quantitative","scale":{"domain":[11010383,11032600],"nice":false,"zero":false},"axis":null},"x2":{"field":"e"},"y":{"datum":1,"type":"quantitative","scale":{"domain":[0,1],"clamp":true,"nice":false},"axis":null},"y2":{"datum":0.86}}}
]},
{"width":958,"height":18,"layer":[
{"data":{"name":"guides"},"mark":{"type":"rule","color":"#dadafa","strokeWidth":1},"encoding":{"x":{"field":"p","type":"quantitative","scale":{"domain":[11010383,11032600],"nice":false,"zero":false},"axis":null}}},
{"data":{"name":"edge"},"mark":{"type":"rule","color":"#ffd0d0","strokeWidth":1},"encoding":{"x":{"field":"p","type":"quantitative","scale":{"domain":[11010383,11032600],"nice":false,"zero":false},"axis":null}}},
{"data":{"name":"one"},"mark":{"type":"text","text":"BDTNP Chromatin Accessibility (DNase) Stage 14, Replicate 2","color":"#6f42a3"}}
]},
{"width":958,"height":17,"layer":[
{"data":{"name":"guides"},"mark":{"type":"rule","color":"#dadafa","strokeWidth":1},"encoding":{"x":{"field":"p","type":"quantitative","scale":{"domain":[11010383,11032600],"nice":false,"zero":false},"axis":null}}},
{"data":{"name":"edge"},"mark":{"type":"rule","color":"#ffd0d0","strokeWidth":1},"encoding":{"x":{"field":"p","type":"quantitative","scale":{"domain":[11010383,11032600],"nice":false,"zero":false},"axis":null}}},
{"data":{"name":"sig"},"mark":{"type":"area","color":"#7344a6","stroke":"#7344a6","strokeWidth":1.5},"encoding":{"x":{"field":"p","type":"quantitative","scale":{"domain":[11010383,11032600],"nice":false,"zero":false},"axis":null},"y":{"field":"s14","type":"quantitative","scale":{"domain":[0,1],"clamp":true,"nice":false},"axis":null}}}
]},
{"width":958,"height":19,"layer":[
{"data":{"name":"guides"},"mark":{"type":"rule","color":"#dadafa","strokeWidth":1},"encoding":{"x":{"field":"p","type":"quantitative","scale":{"domain":[11010383,11032600],"nice":false,"zero":false},"axis":null}}},
{"data":{"name":"edge"},"mark":{"type":"rule","color":"#ffd0d0","strokeWidth":1},"encoding":{"x":{"field":"p","type":"quantitative","scale":{"domain":[11010383,11032600],"nice":false,"zero":false},"axis":null}}},
{"data":{"name":"one"},"mark":{"type":"text","text":"12 Flies, Mosquito, Honeybee, Beetle Multiz Alignments & phastCons Scores","color":"#141464"}}
]},
{"width":958,"height":67,"layer":[
{"data":{"name":"guides"},"mark":{"type":"rule","color":"#dadafa","strokeWidth":1},"encoding":{"x":{"field":"p","type":"quantitative","scale":{"domain":[11010383,11032600],"nice":false,"zero":false},"axis":null}}},
{"data":{"name":"edge"},"mark":{"type":"rule","color":"#ffd0d0","strokeWidth":1},"encoding":{"x":{"field":"p","type":"quantitative","scale":{"domain":[11010383,11032600],"nice":false,"zero":false},"axis":null}}},
{"data":{"name":"mc"},"mark":{"type":"area","color":"#6a6ea6","interpolate":"step"},"encoding":{"x":{"field":"p","type":"quantitative","scale":{"domain":[11010383,11032600],"nice":false,"zero":false},"axis":null},"y":{"field":"m","type":"quantitative","scale":{"domain":[0,1],"nice":false},"axis":null}}},
{"data":{"name":"mc"},"mark":{"type":"rule","color":"#0c1566","strokeWidth":3.2},"encoding":{"x":{"field":"p","type":"quantitative","scale":{"domain":[11010383,11032600],"nice":false,"zero":false},"axis":null},"y":{"field":"m","type":"quantitative","scale":{"domain":[0,1],"nice":false},"axis":null},"y2":{"datum":0}}}
]},
{"width":958,"height":18,"layer":[
{"data":{"name":"guides"},"mark":{"type":"rule","color":"#dadafa","strokeWidth":1},"encoding":{"x":{"field":"p","type":"quantitative","scale":{"domain":[11010383,11032600],"nice":false,"zero":false},"axis":null}}},
{"data":{"name":"edge"},"mark":{"type":"rule","color":"#ffd0d0","strokeWidth":1},"encoding":{"x":{"field":"p","type":"quantitative","scale":{"domain":[11010383,11032600],"nice":false,"zero":false},"axis":null}}},
{"data":{"name":"one"},"mark":{"type":"text","text":"15 Insect Conservation by PhastCons","color":"#4c8c46"}}
]},
{"width":958,"height":35,"layer":[
{"data":{"name":"guides"},"mark":{"type":"rule","color":"#dadafa","strokeWidth":1},"encoding":{"x":{"field":"p","type":"quantitative","scale":{"domain":[11010383,11032600],"nice":false,"zero":false},"axis":null}}},
{"data":{"name":"edge"},"mark":{"type":"rule","color":"#ffd0d0","strokeWidth":1},"encoding":{"x":{"field":"p","type":"quantitative","scale":{"domain":[11010383,11032600],"nice":false,"zero":false},"axis":null}}},
{"data":{"name":"mc"},"mark":{"type":"area","color":"#8fba8a","stroke":"#4c8c46","strokeWidth":1,"interpolate":"step"},"encoding":{"x":{"field":"p","type":"quantitative","scale":{"domain":[11010383,11032600],"nice":false,"zero":false},"axis":null},"y":{"field":"c","type":"quantitative","scale":{"domain":[0,1],"nice":false},"axis":{"values":[0,1],"orient":"left","offset":3,"tickSize":6,"tickColor":"#4c8c46","labelColor":"#4c8c46","labelFontSize":14,"labelPadding":7,"labelBaseline":"bottom","labelFlush":false,"labelBound":false,"labelOverlap":false,"domain":false,"grid":false,"title":null,"format":"d"}}}},
{"data":{"name":"mc"},"mark":{"type":"rule","color":"#4c8c46","strokeWidth":3.2},"encoding":{"x":{"field":"p","type":"quantitative","scale":{"domain":[11010383,11032600],"nice":false,"zero":false},"axis":null},"y":{"field":"c","type":"quantitative","scale":{"domain":[0,1],"nice":false},"axis":{"values":[0,1],"orient":"left","offset":3,"tickSize":6,"tickColor":"#4c8c46","labelColor":"#4c8c46","labelFontSize":14,"labelPadding":7,"labelBaseline":"bottom","labelFlush":false,"labelBound":false,"labelOverlap":false,"domain":false,"grid":false,"title":null,"format":"d"}},"y2":{"datum":0}}},
{"data":{"name":"one"},"mark":{"type":"text","text":"15 Insect Cons","align":"left","dx":-120,"dy":-11.5,"color":"#4c8c46"},"encoding":{"x":{"datum":11010383,"type":"quantitative","scale":{"domain":[11010383,11032600],"nice":false,"zero":false},"axis":null}}}
]},
{"width":958,"height":18,"layer":[
{"data":{"name":"guides"},"mark":{"type":"rule","color":"#dadafa","strokeWidth":1},"encoding":{"x":{"field":"p","type":"quantitative","scale":{"domain":[11010383,11032600],"nice":false,"zero":false},"axis":null}}},
{"data":{"name":"edge"},"mark":{"type":"rule","color":"#ffd0d0","strokeWidth":1},"encoding":{"x":{"field":"p","type":"quantitative","scale":{"domain":[11010383,11032600],"nice":false,"zero":false},"axis":null}}},
{"data":{"name":"one"},"mark":{"type":"text","text":"12 Flies, Mosquito, Honeybee, Beetle Multiz Alignments & phastCons Scores","color":"#000000"}}
]},
{"width":958,"height":19,"layer":[
{"data":{"name":"guides"},"mark":{"type":"rule","color":"#dadafa","strokeWidth":1},"encoding":{"x":{"field":"p","type":"quantitative","scale":{"domain":[11010383,11032600],"nice":false,"zero":false},"axis":null}}},
{"data":{"name":"edge"},"mark":{"type":"rule","color":"#ffd0d0","strokeWidth":1},"encoding":{"x":{"field":"p","type":"quantitative","scale":{"domain":[11010383,11032600],"nice":false,"zero":false},"axis":null}}},
{"data":{"name":"el"},"mark":{"type":"rect","color":"#6e0a2e"},"encoding":{"x":{"field":"s","type":"quantitative","scale":{"domain":[11010383,11032600],"nice":false,"zero":false},"axis":null},"x2":{"field":"e"},"y":{"datum":0,"type":"quantitative","scale":{"domain":[0,1],"nice":false},"axis":null},"y2":{"datum":1}}},
{"data":{"name":"one"},"mark":{"type":"text","text":"15 Insect El","align":"right","dx":-3,"color":"#6e0a2e"},"encoding":{"x":{"datum":11010383,"type":"quantitative","scale":{"domain":[11010383,11032600],"nice":false,"zero":false},"axis":null}}}
]}
]
}
